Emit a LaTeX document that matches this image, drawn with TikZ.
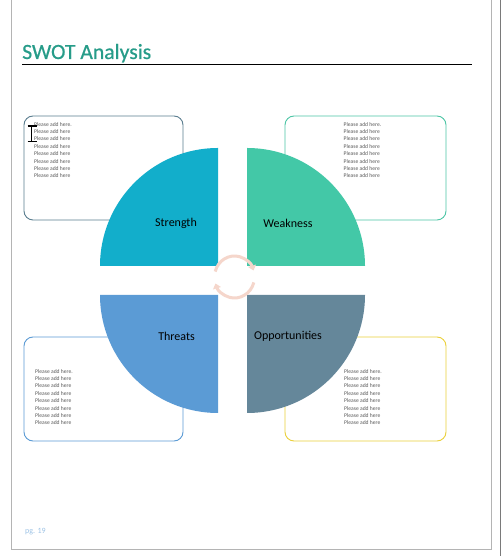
\documentclass[tikz,border=0pt]{standalone}
\usepackage{fontspec}
\setmainfont{Carlito}
\usetikzlibrary{arrows.meta}
\definecolor{titleteal}{HTML}{279C89}
\definecolor{strcol}{HTML}{12AECB}
\definecolor{weakcol}{HTML}{43C8A7}
\definecolor{thrcol}{HTML}{5B9BD5}
\definecolor{oppcol}{HTML}{65879A}
\definecolor{tlborder}{HTML}{5A7D8F}
\definecolor{trborder}{HTML}{4CC5A5}
\definecolor{blborder}{HTML}{5B9BD5}
\definecolor{brborder}{HTML}{EBD03A}
\definecolor{peach}{HTML}{F5D6CB}
\definecolor{pagegray}{HTML}{B4B4B4}
\definecolor{shadowgray}{HTML}{7A7A7A}
\definecolor{bodygray}{HTML}{5A5A5A}
\definecolor{footblue}{HTML}{9DC3E6}
\newcommand\pahlines{Please add here.\\Please add here\\Please add here\\Please add here\\Please add here\\Please add here\\Please add here\\Please add here}
\begin{document}
\begin{tikzpicture}[x=1pt,y=1pt,
  infobox/.style={rounded corners=9pt, line width=0.9pt, fill=white},
  boxtext/.style={inner sep=0pt, anchor=north west, align=left, text=bodygray, font=\fontsize{5.6}{7.4}\selectfont},
  quadlabel/.style={inner sep=0pt, text=black, font=\fontsize{12}{14}\selectfont},
  cyclearrow/.style={draw=peach, line width=3pt, -{Triangle[length=5pt,width=8pt]}}]
\useasboundingbox (0,0) rectangle (501,556);
\fill[white] (0,0) rectangle (501,556);
% page frame
\draw[pagegray, line width=0.9pt] (11,556) -- (11,7) -- (491,7) -- (491,556);
\draw[shadowgray, line width=1pt] (500,0) -- (500,556);
% title
\node[anchor=base west, inner sep=0pt, text=titleteal, font=\fontsize{21.7}{24}\selectfont] (title) at (22,497) {\addfontfeature{FakeBold=0.6}SWOT Analysis};
\draw[black, line width=0.9pt] (22,491.5) -- (472,491.5);
% boxes
\draw[infobox, draw=tlborder] (24,336) rectangle (183,440);
\draw[infobox, draw=trborder] (285,336) rectangle (446,440);
\draw[infobox, draw=blborder] (24,115) rectangle (183,219);
\draw[infobox, draw=brborder] (285,115) rectangle (446,219);
% box texts
\node[boxtext] (tltext) at (34,434) {\pahlines};
\node[boxtext] (trtext) at (343.5,434) {\pahlines};
\node[boxtext] (bltext) at (35,187) {\pahlines};
\node[boxtext] (brtext) at (344,187) {\pahlines};
% cursor
\draw[black, line width=1.1pt] (31.7,430) -- (31.7,414.3);
\draw[black, line width=1.1pt] (27.5,430) -- (36.5,430);
\draw[black, line width=1.1pt] (27.5,414.3) -- (36.5,414.3);
% quadrants
\fill[strcol] (218,290) -- (100,290) arc[start angle=180, end angle=90, radius=118] -- cycle;
\fill[weakcol] (247,290) -- (247,408) arc[start angle=90, end angle=0, radius=118] -- cycle;
\fill[thrcol] (218,261) -- (100,261) arc[start angle=180, end angle=270, radius=118] -- cycle;
\fill[oppcol] (247,261) -- (365,261) arc[start angle=0, end angle=-90, radius=118] -- cycle;
% labels
\node[quadlabel] (strength) at (176,333) {Strength};
\node[quadlabel] (weakness) at (288,333) {Weakness};
\node[quadlabel] (threats) at (176.5,220) {Threats};
\node[quadlabel] (opportunities) at (288,220) {Opportunities};
% cycle arrows
\coordinate (cyc) at (234.5,279);
\draw[cyclearrow] ([shift={(165:20 and 21)}]cyc) arc[start angle=165, end angle=18, x radius=20, y radius=21];
\draw[cyclearrow] ([shift={(-15:20 and 21)}]cyc) arc[start angle=-15, end angle=-162, x radius=20, y radius=21];
% footer
\node[anchor=base west, inner sep=0pt, text=footblue, font=\fontsize{8}{9}\selectfont] (footer) at (25,22) {pg. 19};
\end{tikzpicture}
\end{document}
